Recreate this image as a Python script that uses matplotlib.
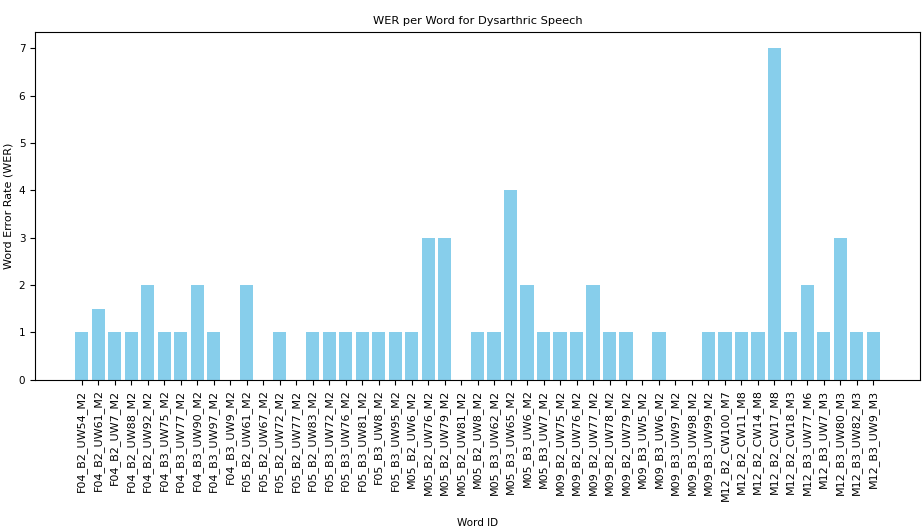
import matplotlib
matplotlib.use("Agg")
import matplotlib.pyplot as plt

# word ids and their WER values
word_ids = [
    "F04_B2_UW54_M2", "F04_B2_UW61_M2", "F04_B2_UW7_M2", "F04_B2_UW88_M2", "F04_B2_UW92_M2",
    "F04_B3_UW75_M2", "F04_B3_UW77_M2", "F04_B3_UW90_M2", "F04_B3_UW97_M2", "F04_B3_UW9_M2",
    "F05_B2_UW61_M2", "F05_B2_UW67_M2", "F05_B2_UW72_M2", "F05_B2_UW77_M2", "F05_B2_UW83_M2",
    "F05_B3_UW72_M2", "F05_B3_UW76_M2", "F05_B3_UW81_M2", "F05_B3_UW8_M2", "F05_B3_UW95_M2",
    "M05_B2_UW6_M2", "M05_B2_UW76_M2", "M05_B2_UW79_M2", "M05_B2_UW81_M2", "M05_B2_UW8_M2",
    "M05_B3_UW62_M2", "M05_B3_UW65_M2", "M05_B3_UW6_M2", "M05_B3_UW7_M2",
    "M09_B2_UW75_M2", "M09_B2_UW76_M2", "M09_B2_UW77_M2", "M09_B2_UW78_M2", "M09_B2_UW79_M2",
    "M09_B3_UW5_M2", "M09_B3_UW6_M2", "M09_B3_UW97_M2", "M09_B3_UW98_M2", "M09_B3_UW99_M2",
    "M12_B2_CW100_M7", "M12_B2_CW11_M8", "M12_B2_CW14_M8", "M12_B2_CW17_M8", "M12_B2_CW18_M3",
    "M12_B3_UW77_M6", "M12_B3_UW7_M3", "M12_B3_UW80_M3", "M12_B3_UW82_M3", "M12_B3_UW9_M3",
]
wer = [
    1, 1.5, 1, 1, 2,
    1, 1, 2, 1, 0,
    2, 0, 1, 0, 1,
    1, 1, 1, 1, 1,
    1, 3, 3, 0, 1,
    1, 4, 2, 1,
    1, 1, 2, 1, 1,
    0, 1, 0, 0, 1,
    1, 1, 1, 7, 1,
    2, 1, 3, 1, 1,
]

fig = plt.figure(figsize=(9.22, 5.31), dpi=100)
ax = fig.add_axes([0.038, 0.285, 0.960, 0.655])

ax.bar(word_ids, wer, color="skyblue")

ax.set_title("WER per Word for Dysarthric Speech", fontsize=8.2)
ax.set_xlabel("Word ID", fontsize=7.5, labelpad=12)
ax.set_ylabel("Word Error Rate (WER)", fontsize=8)
ax.tick_params(axis="x", labelrotation=90, labelsize=8)
ax.tick_params(axis="y", labelsize=7.5)

fig.savefig("out.png", dpi=100)
